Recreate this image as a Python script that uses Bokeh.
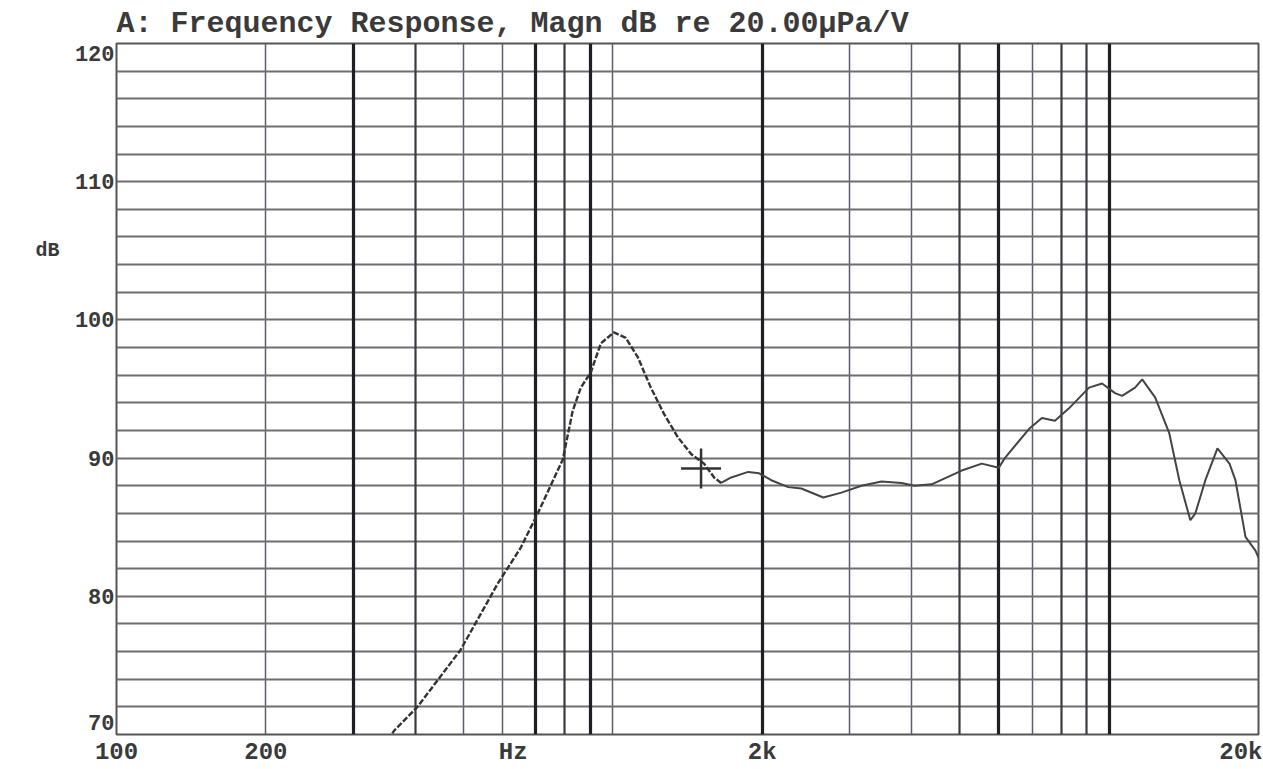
from bokeh.plotting import figure
from bokeh.models import FixedTicker, Grid, LinearAxis
from bokeh.embed import file_html
from bokeh.resources import INLINE

# ---- data ----
freq = [352, 363, 404, 493, 586, 652, 706, 793, 830, 862, 903,
        946, 1005, 1062, 1123, 1193, 1268, 1353, 1438, 1527, 1600,
        1653, 1732, 1874, 1972, 2086, 2257, 2398, 2656, 2888, 3170,
        3478, 3817, 4056, 4389, 5047, 5539, 5995, 6164, 6892, 7321,
        7777, 8302, 9111, 9680, 10280, 10620, 11280, 11660, 12380, 13220,
        13850, 14580, 14920, 15630, 16530, 17480, 17970, 18830, 19720, 20000]
mag_db = [69.6, 70.3, 72.0, 76.1, 80.9, 83.5, 86.0, 89.9, 93.4, 95.1, 96.2,
          98.3, 99.1, 98.7, 97.3, 95.1, 93.2, 91.5, 90.3, 89.6, 88.6,
          88.2, 88.6, 89.0, 88.9, 88.4, 87.9, 87.8, 87.15, 87.5, 88.0,
          88.3, 88.2, 88.0, 88.1, 89.1, 89.6, 89.3, 90.0, 92.1, 92.9,
          92.7, 93.6, 95.1, 95.4, 94.7, 94.5, 95.1, 95.7, 94.4, 91.8,
          88.4, 85.5, 86.0, 88.4, 90.7, 89.6, 88.4, 84.3, 83.3, 82.8]
dashed_until_hz = 1653

cursor_freq = [1506]
cursor_db = [89.25]

title_text = "A: Frequency Response, Magn dB re 20.00\u00b5Pa/V"
y_label_text = "dB"
y_label_at = 105

x_tick_values = [100, 200, 630, 2000, 18600]
x_tick_labels = ["100", "200", "Hz", "2k", "20k"]
y_tick_values = [70.9, 80, 90, 100, 110, 119.3]
y_tick_labels = ["70", "80", "90", "100", "110", "120"]

grid_db = list(range(70, 121, 2))
grid_thin_hz = [200, 500, 600, 1000, 3000, 4000, 7000]
grid_mid_hz = [400, 800, 5000, 8000, 9000]
grid_thick_hz = [300, 700, 900, 2000, 6000, 10000]

FONT = "Liberation Mono"
TXT = "#3a3a3a"

p = figure(width=1262, height=768, x_axis_type="log",
           x_range=(100, 20000), y_range=(70, 120),
           output_backend="svg", toolbar_location=None,
           min_border_left=116, min_border_top=43,
           min_border_right=4, min_border_bottom=34,
           background_fill_color="white", border_fill_color="white")

p.title.text = title_text
p.title.text_font = FONT
p.title.text_font_style = "bold"
p.title.text_font_size = "30px"
p.title.text_color = TXT
p.title.align = "left"
p.title.vertical_align = "middle"
p.title.standoff = 4

p.outline_line_color = "#555555"
p.outline_line_width = 2

# axes
def style_axis(ax):
    ax.axis_line_color = None
    ax.major_tick_line_color = None
    ax.minor_tick_line_color = None
    ax.major_tick_out = 0
    ax.major_tick_in = 0
    ax.minor_tick_out = 0
    ax.minor_tick_in = 0
    ax.major_label_text_font = FONT
    ax.major_label_text_font_style = "bold"
    ax.major_label_text_color = TXT

style_axis(p.xaxis[0])
style_axis(p.yaxis[0])

p.xaxis.ticker = FixedTicker(ticks=x_tick_values)
p.xaxis.major_label_overrides = dict(zip(x_tick_values, x_tick_labels))
p.xaxis.major_label_text_font_size = "24px"
p.xaxis.major_label_standoff = 4

p.yaxis.ticker = FixedTicker(ticks=y_tick_values)
p.yaxis.major_label_overrides = dict(zip(y_tick_values, y_tick_labels))
p.yaxis.major_label_text_font_size = "22px"
p.yaxis.major_label_standoff = 2

# "dB" unit label as a second left axis
unit_axis = LinearAxis(ticker=FixedTicker(ticks=[y_label_at]),
                       major_label_overrides={y_label_at: y_label_text})
style_axis(unit_axis)
unit_axis.major_label_text_font_size = "20px"
unit_axis.major_label_standoff = 12
p.add_layout(unit_axis, "left")

# grids
p.ygrid.ticker = FixedTicker(ticks=grid_db)
p.ygrid.grid_line_color = "#6e6e6e"
p.ygrid.grid_line_width = 2

p.xgrid.ticker = FixedTicker(ticks=grid_thin_hz)
p.xgrid.grid_line_color = "#5c5c6c"
p.xgrid.grid_line_width = 1.5
p.add_layout(Grid(dimension=0, ticker=FixedTicker(ticks=grid_mid_hz),
                  grid_line_color="#3a3a44", grid_line_width=2.2))
p.add_layout(Grid(dimension=0, ticker=FixedTicker(ticks=grid_thick_hz),
                  grid_line_color="#1e1e24", grid_line_width=3.2))

# curve
n_dash = sum(1 for f in freq if f <= dashed_until_hz)
p.line(freq[:n_dash], mag_db[:n_dash], line_color="#333333", line_width=2.4,
       line_dash="6 2")
p.line(freq[n_dash - 1:], mag_db[n_dash - 1:], line_color="#444444", line_width=2)

# cursor
p.scatter(cursor_freq, cursor_db, marker="cross", size=40,
          line_color="#333333", line_width=2.5)

open("out.html", "w").write(file_html(p, INLINE))
